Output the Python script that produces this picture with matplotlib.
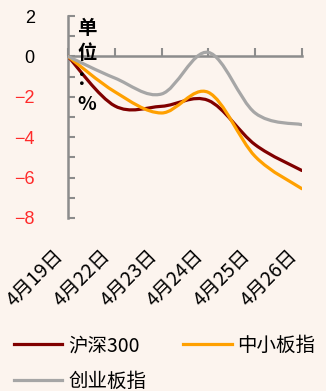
import matplotlib
matplotlib.use("Agg")
import matplotlib.pyplot as plt
from matplotlib.path import Path
from matplotlib.patches import PathPatch
from matplotlib.lines import Line2D
import numpy as np

dates = ["4月19日", "4月22日", "4月23日", "4月24日", "4月25日", "4月26日"]
hs300 = [0.0, -2.45, -2.47, -2.18, -4.37, -5.65]
zxb = [0.0, -1.75, -2.8, -1.78, -4.95, -6.55]
cyb = [0.0, -1.07, -1.86, 0.2, -2.8, -3.38]
series_names = ["沪深300", "中小板指", "创业板指"]
colors = ["#800000", "#FFA000", "#A6A6A6"]

BG = "#FCF4EE"
CJK = ["Noto Sans CJK SC", "DejaVu Sans"]
NUM = ["Liberation Sans", "DejaVu Sans"]

fig = plt.figure(figsize=(3.26, 3.91), dpi=100, facecolor=BG)
ax = fig.add_axes([0.2086, 0.4425, 0.7174, 0.5165], facecolor=BG)


def smooth_path(xs, ys):
    pts = np.column_stack([xs, ys]).astype(float)
    n = len(pts)
    verts = [pts[0]]
    codes = [Path.MOVETO]
    for i in range(n - 1):
        p0 = pts[i - 1] if i > 0 else pts[i]
        p1 = pts[i]
        p2 = pts[i + 1]
        p3 = pts[i + 2] if i + 2 < n else pts[i + 1]
        c1 = p1 + (p2 - p0) / 6.0
        c2 = p2 - (p3 - p1) / 6.0
        verts += [c1, c2, p2]
        codes += [Path.CURVE4] * 3
    return Path(verts, codes)


xs = np.arange(len(dates))
handles = {}
for name, vals, col in zip(series_names, [hs300, zxb, cyb], colors):
    patch = PathPatch(smooth_path(xs, vals), fill=False, edgecolor=col,
                      lw=2.3, capstyle="round", joinstyle="round", zorder=3)
    ax.add_patch(patch)
    handles[name] = Line2D([], [], color=col, lw=2.3)

ax.set_xlim(0, len(dates) - 1)
ax.set_ylim(-8, 2)

# axes styling
for s in ["top", "right"]:
    ax.spines[s].set_visible(False)
axis_col = "#8C8C8C"
ax.spines["left"].set_color(axis_col)
ax.spines["left"].set_linewidth(1.8)
ax.spines["bottom"].set_position(("data", 0))
ax.spines["bottom"].set_color(axis_col)
ax.spines["bottom"].set_linewidth(1.8)

ax.set_yticks(np.arange(-8, 3, 2))
ax.set_yticks(np.arange(-8, 3, 1), minor=True)
ax.tick_params(axis="y", which="both", direction="in", length=5, width=1.5,
               color=axis_col, pad=24)
ytl = ax.set_yticklabels([("−" + str(abs(v))) if v < 0 else str(v)
                          for v in range(-8, 3, 2)])
for t, v in zip(ytl, range(-8, 3, 2)):
    t.set_fontfamily(NUM)
    t.set_fontsize(13)
    t.set_color("#FF2A2A" if v < 0 else "black")

ax.set_xticks(xs)
ax.set_xticklabels([])
ax.tick_params(axis="x", which="both", direction="in", length=6, width=1.5,
               color=axis_col)

sec = ax.secondary_xaxis(0)
sec.spines["bottom"].set_visible(False)
sec.set_xticks(xs)
sec.set_xticklabels(dates, rotation=45, ha="right", va="top",
                    fontfamily=CJK, fontsize=14)
sec.tick_params(axis="x", length=0, pad=20)

ax.text(0.04, 0.985, "单\n位\n：\n%", transform=ax.transAxes, ha="left",
        va="top", fontfamily=CJK, fontsize=14, fontweight="bold",
        linespacing=1.42, zorder=5)

order = ["沪深300", "创业板指", "中小板指"]
fig.legend([handles[k] for k in order], order, ncol=2, frameon=False,
           loc="lower left", bbox_to_anchor=(0.03, -0.012),
           prop={"family": CJK, "size": 14}, handlelength=2.5,
           handletextpad=0.3, columnspacing=1.9, labelspacing=0.75,
           borderpad=0.2, borderaxespad=0)

fig.savefig("out.png", dpi=100, facecolor=BG)
